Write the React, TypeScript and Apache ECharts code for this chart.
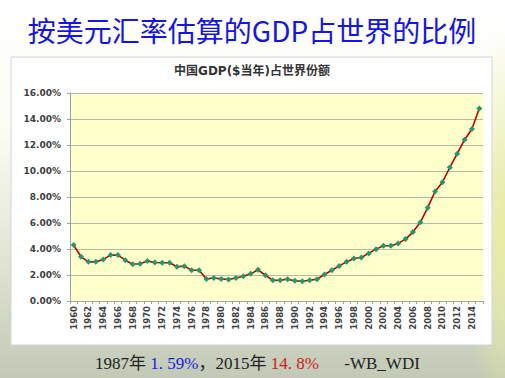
import React, { useEffect, useRef } from "react";
import * as echarts from "echarts";

const years: string[] = [];
for (let y = 1960; y <= 2015; y++) years.push(String(y));

// China GDP (current US$) share of world, %
const share: number[] = [
  4.30, 3.40, 3.01, 3.01, 3.20, 3.53, 3.53, 3.14, 2.83, 2.86,
  3.07, 2.96, 2.94, 2.94, 2.63, 2.68, 2.37, 2.37, 1.70, 1.77,
  1.70, 1.65, 1.77, 1.91, 2.09, 2.40, 1.98, 1.59, 1.60, 1.68,
  1.55, 1.52, 1.60, 1.68, 2.04, 2.37, 2.70, 3.01, 3.27, 3.35,
  3.66, 3.99, 4.25, 4.25, 4.43, 4.76, 5.30, 6.05, 7.18, 8.42,
  9.14, 10.27, 11.33, 12.41, 13.23, 14.80,
];

const yTicks = { min: 0, max: 16, interval: 2 };

const mainTitle = "按美元汇率估算的GDP占世界的比例";
const chartTitle = "中国GDP($当年)占世界份额";

export default function App() {
  const ref = useRef<HTMLDivElement>(null);
  useEffect(() => {
    if (!ref.current) return;
    const chart = echarts.init(ref.current, null, { renderer: "svg" });
    const serif = '17px "Liberation Serif", "Noto Sans CJK SC"';
    chart.setOption({
      animation: false,
      backgroundColor: "transparent",
      graphic: [
        {
          type: "rect",
          z: -10,
          shape: { x: 11, y: 57, width: 481, height: 288 },
          style: { fill: "#ffffff", stroke: "#d4d4d4", lineWidth: 1 },
        },
        {
          type: "text",
          x: 252,
          y: 30,
          style: {
            text: mainTitle,
            fill: "#1414e6",
            font: '28px "Noto Sans CJK SC"',
            align: "center",
            verticalAlign: "middle",
          },
        },
        {
          type: "text",
          x: 252,
          y: 71,
          style: {
            text: chartTitle,
            fill: "#333333",
            font: 'bold 12px "DejaVu Sans", "Noto Sans CJK SC"',
            align: "center",
            verticalAlign: "middle",
          },
        },
        {
          type: "text",
          x: 95,
          y: 363,
          style: {
            text: "{a|1987年 }{b|1. 59%}{a|，2015年 }{c|14. 8%}{a|      -WB_WDI}",
            verticalAlign: "middle",
            rich: {
              a: { fill: "#222222", font: serif },
              b: { fill: "#1a1ae0", font: serif },
              c: { fill: "#c81e1e", font: serif },
            },
          },
        },
      ],
      grid: {
        left: 70,
        right: 22,
        top: 93,
        bottom: 77,
        show: true,
        backgroundColor: "#ffffcc",
        borderWidth: 0,
      },
      xAxis: {
        type: "category",
        data: years,
        boundaryGap: true,
        axisLine: { lineStyle: { color: "#a0a0a0" } },
        axisTick: { show: true, interval: 0, length: 3, lineStyle: { color: "#a0a0a0" } },
        axisLabel: {
          interval: 1,
          rotate: 90,
          color: "#404040",
          fontWeight: "bold",
          fontSize: 8.5,
          fontFamily: "DejaVu Sans",
          margin: 5,
        },
        splitLine: { show: false },
      },
      yAxis: {
        type: "value",
        min: yTicks.min,
        max: yTicks.max,
        interval: yTicks.interval,
        axisLine: { show: true, lineStyle: { color: "#a0a0a0" } },
        axisTick: { show: true, length: 3, lineStyle: { color: "#a0a0a0" } },
        axisLabel: {
          formatter: (v: number) => v.toFixed(2) + "%",
          color: "#404040",
          fontWeight: "bold",
          fontSize: 9,
          fontFamily: "DejaVu Sans",
          margin: 9,
        },
        splitLine: { lineStyle: { color: "#b8b8a8", width: 1 } },
      },
      series: [
        {
          type: "line",
          data: share,
          symbol: "diamond",
          symbolSize: 6,
          showSymbol: true,
          showAllSymbol: true,
          lineStyle: { color: "#c00000", width: 1.6 },
          itemStyle: { color: "#22996b", borderWidth: 0 },
        },
      ],
    });
    return () => chart.dispose();
  }, []);
  return (
    <div
      style={{
        position: "fixed",
        left: 0,
        top: 0,
        width: 505,
        height: 378,
        background:
          "radial-gradient(ellipse 40px 200px at 505px 230px, #e8eca0 0%, rgba(232,236,160,0) 100%), linear-gradient(to bottom, #ffffff 0%, #fbfcf4 35%, #dfe3d2 70%, #c2c9b6 100%)",
      }}
    >
      <div ref={ref} style={{ width: 505, height: 378 }} />
    </div>
  );
}
